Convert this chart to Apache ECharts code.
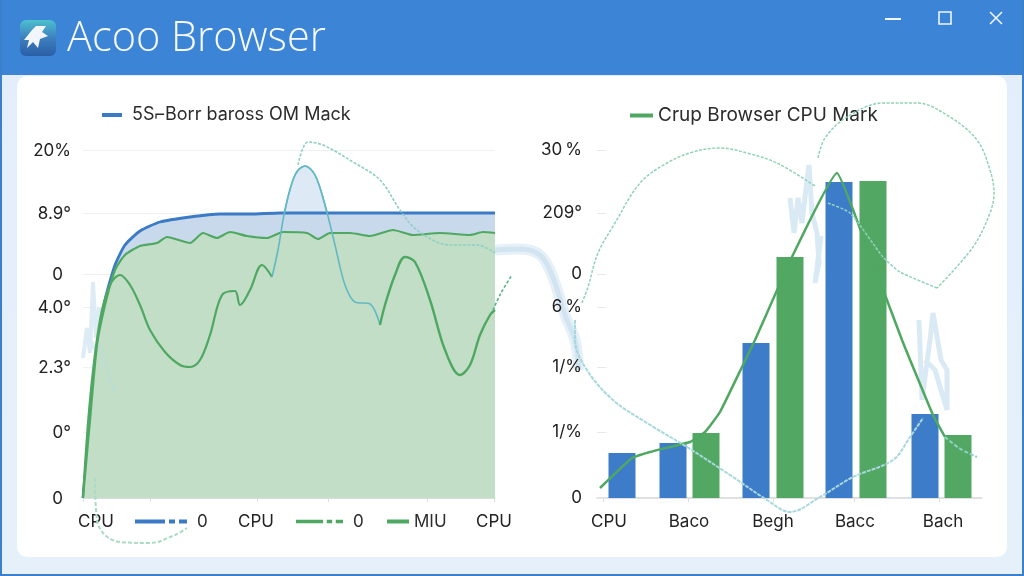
<!DOCTYPE html>
<html><head><meta charset="utf-8">
<style>html,body{margin:0;padding:0;background:#e4eefa}#c{width:1024px;height:576px}</style>
<script src="https://cdn.jsdelivr.net/npm/echarts@6/dist/echarts.min.js"></script>
</head><body><div id="c"></div>
<script>
const FONT = 'Inter, Roboto, sans-serif';
const windowTitle = 'Acoo Browser';
const leftLegendName = '5S\u2310Borr baross OM Mack';
const rightLegendName = 'Crup Browser CPU Mark';
const bottomLegendNames = ['0', '0 ', 'MIU'];

const leftYTicks = [0, 66, 131, 191, 224, 285, 348];
const leftYLabels = ['0', '0°', '2.3°', '4.0°', '0', '8.9°', '20%'];
const rightYLabels = ['0', '1/%', '1/%', '6\u2009%', '0', '209°', '30\u2009%'];
const leftXLabelPos = [13, 173, 411];
const leftXLabels = ['CPU', 'CPU', 'CPU'];
const leftXTicks = [0, 67, 174, 245, 344, 411];
const rightXLabelPos = [12, 92, 176, 258, 346];
const rightXLabels = ['CPU', 'Baco', 'Begh', 'Bacc', 'Bach'];
const rightXTicks = [6, 91, 176, 257, 342];

const blueFill = [[0,0],[7,78],[14,148],[22,198],[32,233],[42,253],[57,267],[77,276],[107,281],[137,284],[167,284],[197,285],[257,285],[317,285],[377,285],[412,285]];
const greenFill = [[0,0],[7,78],[14,153],[22,193],[32,228],[42,243],[57,252],[74,255],[84,261],[107,255],[120,265],[134,260],[147,266],[164,262],[184,260],[200,266],[224,265],[235,259],[247,265],[267,265],[287,262],[310,268],[330,263],[357,265],[387,263],[400,266],[412,265]];
const greenWaveA = [[0,0],[7,98],[17,178],[27,213],[37,223],[47,213],[57,193],[67,168],[82,146],[97,133],[107,131],[117,138],[127,163],[139,203],[152,207],[157,193],[167,208],[179,233],[189,221]];
const tealSpike = [[189,221],[195,248],[202,288],[212,323],[222,332],[232,323],[242,293],[252,253],[262,213],[272,196],[287,194],[297,173]];
const greenWaveB = [[297,173],[302,193],[312,223],[322,241],[332,236],[347,198],[362,148],[377,123],[387,133],[397,163],[407,183],[412,188]];
const greenTail = [[410,188],[418,205],[429,223]];
const tealTop = [[215,333],[225,356],[240,353],[270,336],[297,318],[317,288],[334,268],[367,253],[394,253],[412,245]];
const ribbon = [[412,248],[437,249],[457,243],[469,223],[482,183],[492,158],[496,128]];
const strayBottom = [[12,20],[14,-22],[22,-37],[37,-44],[67,-45],[92,-37],[104,-30]];
const strayShort = [[17,153],[24,128],[32,106]];
const scribbleLeft = [[0,140],[4,170],[7,145],[10,216],[13,160],[16,190],[17,140],[6,160]];

const blueBars = [[25,45],[76,55],[159,155],[242,316],[328,84]];
const greenBars = [[109,65],[193,241],[276,317],[361,63]];
const rightLine = [[3,10],[35,40],[53,46],[73,51],[93,56],[108,66],[123,86],[145,131],[158,158],[195,241],[240,325],[261,275],[305,158],[336,83],[348,61]];
const rightTail = [[348,61],[362,50],[380,41]];
const loopA = [[-15,195],[-9,211],[1,245],[18,275],[43,315],[70,335],[96,346],[123,350],[150,345],[180,335],[218,312]];
const loopB = [[221,340],[228,360],[250,381],[286,395],[320,395],[353,381],[380,358],[393,328],[397,305],[393,285],[376,251],[340,210]];
const loopC = [[340,210],[303,226],[286,241],[253,285],[231,295]];
const lowerCurve = [[-22,178],[-22,158],[-10,128],[16,98],[50,75],[90,51],[136,21],[170,-2],[193,-14],[223,1],[256,21],[296,38],[313,61],[326,80]];
const scribbleR1 = [[193,300],[197,265],[201,300],[205,275],[209,310],[212,333],[215,285],[220,265],[222,235],[218,215],[224,262]];
const scribbleR2 = [[322,178],[325,98],[333,158],[336,185],[344,138],[350,128],[350,88],[338,128],[328,138]];

const BLUE = '#3b7ac6', GREEN = '#4fa862', TEAL = '#62b9c4', MINT = '#8fd3b4', PALE = '#d4e6f3';
const toMap = (k, v) => Object.fromEntries(k.map((x, i) => [x, v[i]]));
const leftYMap = toMap(leftYTicks, leftYLabels), rightYMap = toMap(leftYTicks, rightYLabels);
const leftXMap = toMap(leftXLabelPos, leftXLabels), rightXMap = toMap(rightXLabelPos, rightXLabels);

function line(name, data, color, width, extra) {
  return Object.assign({ type: 'line', name, data, showSymbol: false, symbol: 'none', clip: false, smooth: 0.35,
    lineStyle: { color, width }, itemStyle: { color }, silent: true, animation: false }, extra || {});
}
const L = { xAxisIndex: 0, yAxisIndex: 0 }, R = { xAxisIndex: 1, yAxisIndex: 1 };
const L2 = { xAxisIndex: 2, yAxisIndex: 2 }, R2 = { xAxisIndex: 3, yAxisIndex: 3 };
const dash = [4, 2];

const series = [
  line('spikeArea', tealSpike, TEAL, 1.6, Object.assign({ z: 2, areaStyle: { color: '#dde9f5', opacity: 1 } }, L)),
  line(leftLegendName, blueFill, BLUE, 2.8, Object.assign({ z: 3, smooth: 0.2, areaStyle: { color: '#c9d9ec', opacity: 1 } }, L)),
  line('greenFill', greenFill, GREEN, 2.2, Object.assign({ z: 4, smooth: 0.2, areaStyle: { color: '#c2dec6', opacity: 1 } }, L)),
  line('scribbleLeft', scribbleLeft, PALE, 4, Object.assign({ z: 2, smooth: 0, lineStyle: { color: PALE, width: 4, opacity: .8 } }, L)),
  line('waveA', greenWaveA, GREEN, 2.2, Object.assign({ z: 6 }, L)),
  line('spike', tealSpike, TEAL, 1.6, Object.assign({ z: 6 }, L)),
  line('waveB', greenWaveB, GREEN, 2.4, Object.assign({ z: 6 }, L)),
  line('tail', greenTail, MINT, 1.6, Object.assign({ z: 6, lineStyle: { color: '#55b58a', width: 1.6, type: [3, 2] } }, L2)),
  line('tealTop', tealTop, MINT, 1.6, Object.assign({ z: 6, lineStyle: { color: '#8fd0c4', width: 1.6, type: [3, 1.5] } }, L)),
  line('ribbonWide', ribbon, '#e6f0f8', 11, Object.assign({ z: 1 }, L2)),
  line('ribbon', ribbon, '#d3e4f1', 5, Object.assign({ z: 1 }, L2)),
  line('strayBottom', strayBottom, MINT, 2, Object.assign({ z: 6, lineStyle: { color: '#a9dcc4', width: 2, type: dash } }, L)),
  line('strayShort', strayShort, '#b5dde0', 2, Object.assign({ z: 6, lineStyle: { color: '#b5dde0', width: 2, type: [3, 2] } }, L)),

  { type: 'bar', name: 'blueBars', data: blueBars, barWidth: 27, barGap: '-100%', xAxisIndex: 1, yAxisIndex: 1, itemStyle: { color: '#3d7cc8' }, z: 3, animation: false, silent: true },
  { type: 'bar', name: 'greenBars', data: greenBars, barWidth: 27, barGap: '-100%', xAxisIndex: 1, yAxisIndex: 1, itemStyle: { color: '#52a863' }, z: 3, animation: false, silent: true },
  line('scribbleR1', scribbleR1, PALE, 5, Object.assign({ z: 2, smooth: 0, lineStyle: { color: PALE, width: 5, opacity: .85 } }, R)),
  line('scribbleR2', scribbleR2, PALE, 5, Object.assign({ z: 2, smooth: 0, lineStyle: { color: PALE, width: 5, opacity: .85 } }, R)),
  line(rightLegendName, rightLine, GREEN, 2.5, Object.assign({ z: 6, smooth: 0.12 }, R)),
  line('rightTail', rightTail, '#8fd0c4', 2, Object.assign({ z: 6, lineStyle: { color: '#8fd0c4', width: 2, type: dash } }, R)),
  line('loopA', loopA, MINT, 1.5, Object.assign({ z: 6, lineStyle: { color: MINT, width: 1.5, type: [3, 1.5] } }, R2)),
  line('loopB', loopB, MINT, 1.5, Object.assign({ z: 6, lineStyle: { color: MINT, width: 1.5, type: [3, 1.5] } }, R2)),
  line('loopC', loopC, MINT, 1.5, Object.assign({ z: 6, smooth: 0.2, lineStyle: { color: '#92d2c0', width: 1.5, type: [3, 1.5] } }, R2)),
  line('lowerCurve', lowerCurve, '#a8d8de', 2, Object.assign({ z: 6, lineStyle: { color: '#a8d8de', width: 2, type: [4, 1] } }, R2)),
  line(bottomLegendNames[0], [], BLUE, 3, L),
  line(bottomLegendNames[1], [], GREEN, 3, L),
  line(bottomLegendNames[2], [], GREEN, 3, L)
];

function legend(name, left, top, w, icon, color, gap, size) {
  return { show: true, left, top, data: [{ name, icon, itemStyle: { color, opacity: 1 } }], itemWidth: w, itemHeight: 4, itemGap: 0, selectedMode: false,
    padding: 0, textStyle: { fontFamily: FONT, fontSize: size, color: '#2c2c2c', padding: [0, 0, 0, gap] } };
}
const dashedIcon = 'path://M0 0h30v4H0z M34 0h6v4h-6z M44 0h8v4h-8z';

const shapes = [
  { type: 'rect', z: -20, shape: { x: 0, y: 0, width: 1024, height: 576 }, style: { fill: new echarts.graphic.LinearGradient(0, 0, 0, 1, [{ offset: 0, color: '#e3eefb' }, { offset: 1, color: '#e6f0fb' }]) } },
  { type: 'rect', z: -19, shape: { x: 0, y: 0, width: 1024, height: 75 }, style: { fill: '#3c84d6' } },
  { type: 'rect', z: -19, shape: { x: 0, y: 0, width: 2, height: 576 }, style: { fill: '#3c7fca' } },
  { type: 'rect', z: -19, shape: { x: 1022, y: 0, width: 2, height: 576 }, style: { fill: '#3c7fca' } },
  { type: 'rect', z: -19, shape: { x: 0, y: 574, width: 1024, height: 2 }, style: { fill: '#3c7fca' } },
  { type: 'rect', z: -18, shape: { x: 17, y: 76, width: 990, height: 481, r: 10 }, style: { fill: '#ffffff' } },
  { type: 'rect', z: -17, shape: { x: 20, y: 20, width: 36, height: 36, r: 6 }, style: { fill: new echarts.graphic.LinearGradient(0, 0, 0, 1, [{ offset: 0, color: '#4cc0cf' }, { offset: .5, color: '#3d7fbf' }, { offset: 1, color: '#2a5ea6' }]) } },
  { type: 'polygon', z: -16, shape: { points: [[24,40],[32,30],[36,26],[46,26],[42,32],[48,36],[40,39],[38,48],[33,42],[27,48],[29,40]] }, style: { fill: '#f2f6fb' } },
  { type: 'text', z: -16, left: 67, top: 18, style: { text: windowTitle, fill: '#f6faff', font: '300 41.5px "Open Sans", Lato, sans-serif' } },
  { type: 'line', z: -16, shape: { x1: 885, y1: 19, x2: 901, y2: 19 }, style: { stroke: '#eef5fd', lineWidth: 2 } },
  { type: 'rect', z: -16, shape: { x: 939, y: 12, width: 12, height: 12 }, style: { fill: 'none', stroke: '#eef5fd', lineWidth: 1.6 } },
  { type: 'line', z: -16, shape: { x1: 990, y1: 12, x2: 1002, y2: 24 }, style: { stroke: '#eef5fd', lineWidth: 1.6 } },
  { type: 'line', z: -16, shape: { x1: 1002, y1: 12, x2: 990, y2: 24 }, style: { stroke: '#eef5fd', lineWidth: 1.6 } }
];

const axisLabelBase = { fontFamily: FONT, fontSize: 17, color: '#222' };
const pad0 = v => v === '0' ? '{z|0}' : v;
const overlayX = (gridIndex, min, max) => ({ type: 'value', gridIndex, min, max, show: false });
const overlayY = gridIndex => ({ type: 'value', gridIndex, min: 0, max: 348, show: false });

const option = {
  animation: false,
  backgroundColor: 'transparent',
  textStyle: { fontFamily: FONT },
  graphic: { elements: shapes },
  grid: [
    { left: 83, width: 412, top: 150, height: 348 },
    { left: 597, width: 385, top: 150, height: 348 },
    { left: 17, width: 1000, top: 150, height: 348 },
    { left: 500, width: 524, top: 150, height: 348 }
  ],
  xAxis: [
    { type: 'value', gridIndex: 0, min: 0, max: 412, splitLine: { show: false },
      axisLine: { show: true, onZero: false, lineStyle: { color: '#d4d6d8', width: 1.5 } },
      axisTick: { show: true, customValues: leftXTicks, length: 4, lineStyle: { color: '#dcdde0' } },
      axisLabel: Object.assign({}, axisLabelBase, { customValues: leftXLabelPos, margin: 15, hideOverlap: false, formatter: v => leftXMap[v] }) },
    { type: 'value', gridIndex: 1, min: 0, max: 385, splitLine: { show: false },
      axisLine: { show: true, onZero: false, lineStyle: { color: '#d4d6d8', width: 1.5 } },
      axisTick: { show: true, customValues: rightXTicks, length: 4, lineStyle: { color: '#dcdde0' } },
      axisLabel: Object.assign({}, axisLabelBase, { customValues: rightXLabelPos, margin: 15, hideOverlap: false, formatter: v => rightXMap[v] }) },
    overlayX(2, -66, 934),
    overlayX(3, -97, 427)
  ],
  yAxis: [
    { type: 'value', gridIndex: 0, min: 0, max: 348, axisLine: { show: false },
      axisTick: { show: false, customValues: leftYTicks },
      splitLine: { show: true, lineStyle: { color: '#eef0f1', width: 1 } },
      axisLabel: Object.assign({}, axisLabelBase, { customValues: leftYTicks, margin: 12, padding: [2, 0, 0, 0], formatter: v => pad0(leftYMap[v]),
        rich: { z: Object.assign({}, axisLabelBase, { padding: [0, 8, 0, 0] }) } }) },
    { type: 'value', gridIndex: 1, min: 0, max: 348, z: 10, axisLine: { show: false },
      axisTick: { show: true, inside: true, length: 9, customValues: leftYTicks, lineStyle: { color: '#e6e8ea' } },
      splitLine: { show: false },
      axisLabel: Object.assign({}, axisLabelBase, { customValues: leftYTicks, margin: 15, padding: [2, 0, 0, 0], formatter: v => rightYMap[v] }) },
    overlayY(2),
    overlayY(3)
  ],
  legend: [
    legend(leftLegendName, 102, 106, 20, 'rect', BLUE, 5, 18),
    legend(rightLegendName, 630, 106, 23, 'rect', GREEN, 0, 19),
    legend(bottomLegendNames[0], 135, 513, 52, dashedIcon, BLUE, 5, 17),
    legend(bottomLegendNames[1], 296, 513, 47, dashedIcon, GREEN, 5, 17),
    legend(bottomLegendNames[2], 387, 513, 22, 'rect', GREEN, 0, 17)
  ],
  series
};
const chart = echarts.init(document.getElementById('c'), null, { renderer: 'canvas' });
chart.setOption(option);
</script></body></html>
